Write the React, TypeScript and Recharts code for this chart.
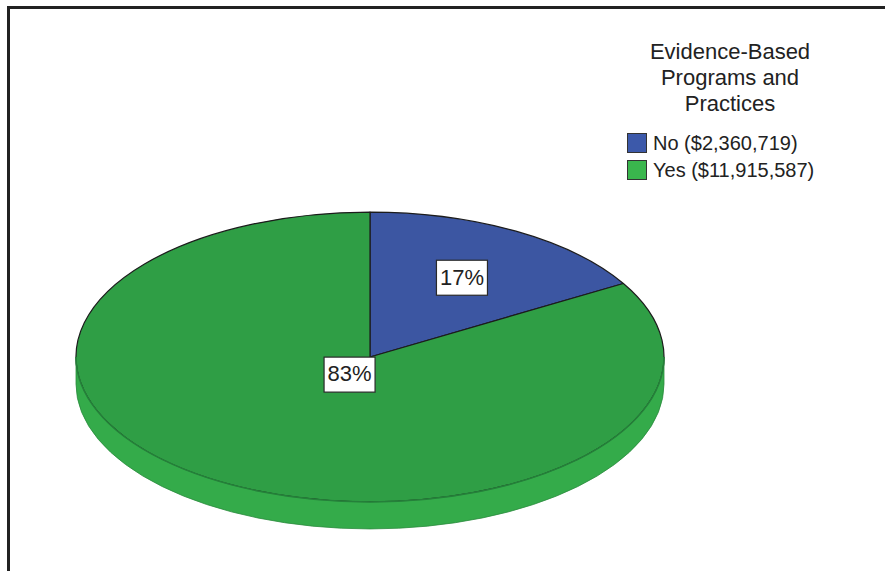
import { Cell, Legend, Pie, PieChart } from 'recharts'

const categories = ['No', 'Yes']
const amounts = [2360719, 11915587]
const legendTitle = ['Evidence-Based', 'Programs and', 'Practices']

const COLORS = ['#3c56a2', '#2f9e45']
const SIDE_COLORS = ['#2e4a8f', '#34ab4a']
const SWATCH = ['#3c59aa', '#3ab64d']
const LABEL_R = [0.63, 0.14]

const TILT = 0.493
const DEPTH = 27
const FONT = "'Liberation Sans', Arial, sans-serif"

const data = categories.map((name, i) => ({ name, value: amounts[i] }))
const total = amounts.reduce((a, b) => a + b, 0)

const rad = (a: number) => (a * Math.PI) / 180

function EllipseSector(props: any) {
  const { cx, cy, outerRadius, startAngle, endAngle, index } = props
  const rx = outerRadius
  const ry = outerRadius * TILT
  const pt = (a: number, dy = 0) => `${cx + rx * Math.cos(rad(a))},${cy - ry * Math.sin(rad(a)) + dy}`
  const large = Math.abs(startAngle - endAngle) > 180 ? 1 : 0
  const sweep = startAngle > endAngle ? 1 : 0
  const top = `M${cx},${cy} L${pt(startAngle)} A${rx},${ry} 0 ${large} ${sweep} ${pt(endAngle)} Z`

  // side wall only where the sector covers the front half of the disc
  const lo = Math.min(startAngle, endAngle)
  const hi = Math.max(startAngle, endAngle)
  const sides: string[] = []
  const rims: string[] = []
  for (let k = -2; k <= 1; k++) {
    const a = Math.max(lo, 180 + k * 360)
    const b = Math.min(hi, 360 + k * 360)
    if (b > a) {
      const lg = b - a > 180 ? 1 : 0
      sides.push(
        `M${pt(a)} A${rx},${ry} 0 ${lg} 0 ${pt(b)} L${pt(b, DEPTH)} A${rx},${ry} 0 ${lg} 1 ${pt(a, DEPTH)} Z`
      )
      rims.push(`M${pt(a)} A${rx},${ry} 0 ${lg} 0 ${pt(b)}`)
    }
  }

  return (
    <g>
      <path d={top} fill={COLORS[index]} stroke="#1c1c1c" strokeWidth={1.2} strokeLinejoin="round" />
      {sides.map((d, i) => (
        <path key={i} d={d} fill={SIDE_COLORS[index]} stroke="#2b8a3e" strokeWidth={0.8} />
      ))}
      {rims.map((d, i) => (
        <path key={'r' + i} d={d} fill="none" stroke="#25803a" strokeWidth={1.4} />
      ))}
    </g>
  )
}

function renderLabel(props: any) {
  const { cx, cy, midAngle, outerRadius, index } = props
  const r = outerRadius * LABEL_R[index]
  const x = cx + r * Math.cos(rad(midAngle))
  const y = cy - r * TILT * Math.sin(rad(midAngle))
  const text = `${Math.round((amounts[index] / total) * 100)}%`
  return (
    <g>
      <rect x={x - 25.5} y={y - 17.5} width={51} height={35} fill="#ffffff" stroke="#2a2a2a" strokeWidth={1.2} />
      <text x={x} y={y + 1} textAnchor="middle" dominantBaseline="middle" fontSize={22} fontFamily={FONT} fill="#222">
        {text}
      </text>
    </g>
  )
}

const money = (v: number) => '$' + v.toLocaleString('en-US')

function LegendBox() {
  return (
    <div style={{ position: 'relative', width: 220, height: 160, fontFamily: FONT, color: '#222' }}>
      {legendTitle.map((line, i) => (
        <div
          key={line}
          style={{ position: 'absolute', left: 0, top: 26 * i, width: 220, textAlign: 'center', fontSize: 22, lineHeight: '26px' }}
        >
          {line}
        </div>
      ))}
      {categories.map((name, i) => (
        <div key={name} style={{ position: 'absolute', left: 7, top: 94 + 27 * i, height: 20, display: 'flex', alignItems: 'center' }}>
          <div style={{ width: 18, height: 18, background: SWATCH[i], border: '1px solid #333' }} />
          <span style={{ marginLeft: 6, fontSize: 20, lineHeight: '20px', whiteSpace: 'nowrap' }}>
            {`${name} (${money(amounts[i])})`}
          </span>
        </div>
      ))}
    </div>
  )
}

export default function App() {
  return (
    <div style={{ position: 'absolute', left: 0, top: 0, width: 885, height: 571, background: '#fff', overflow: 'hidden' }}>
      <div
        style={{
          position: 'absolute',
          left: 7,
          top: 6,
          right: 0,
          bottom: 0,
          borderTop: '3px solid #222',
          borderLeft: '3px solid #222',
        }}
      />
      <PieChart width={885} height={571} margin={{ top: 0, right: 0, bottom: 0, left: 0 }}>
        <Pie
          data={data}
          dataKey="value"
          nameKey="name"
          cx={370}
          cy={357}
          outerRadius={294}
          startAngle={90}
          endAngle={-270}
          shape={EllipseSector}
          label={renderLabel}
          labelLine={false}
          isAnimationActive={false}
        >
          {data.map((d, i) => (
            <Cell key={d.name} fill={COLORS[i]} />
          ))}
        </Pie>
        <Legend content={() => <LegendBox />} wrapperStyle={{ left: 620, top: 39, width: 220 }} />
      </PieChart>
    </div>
  )
}
